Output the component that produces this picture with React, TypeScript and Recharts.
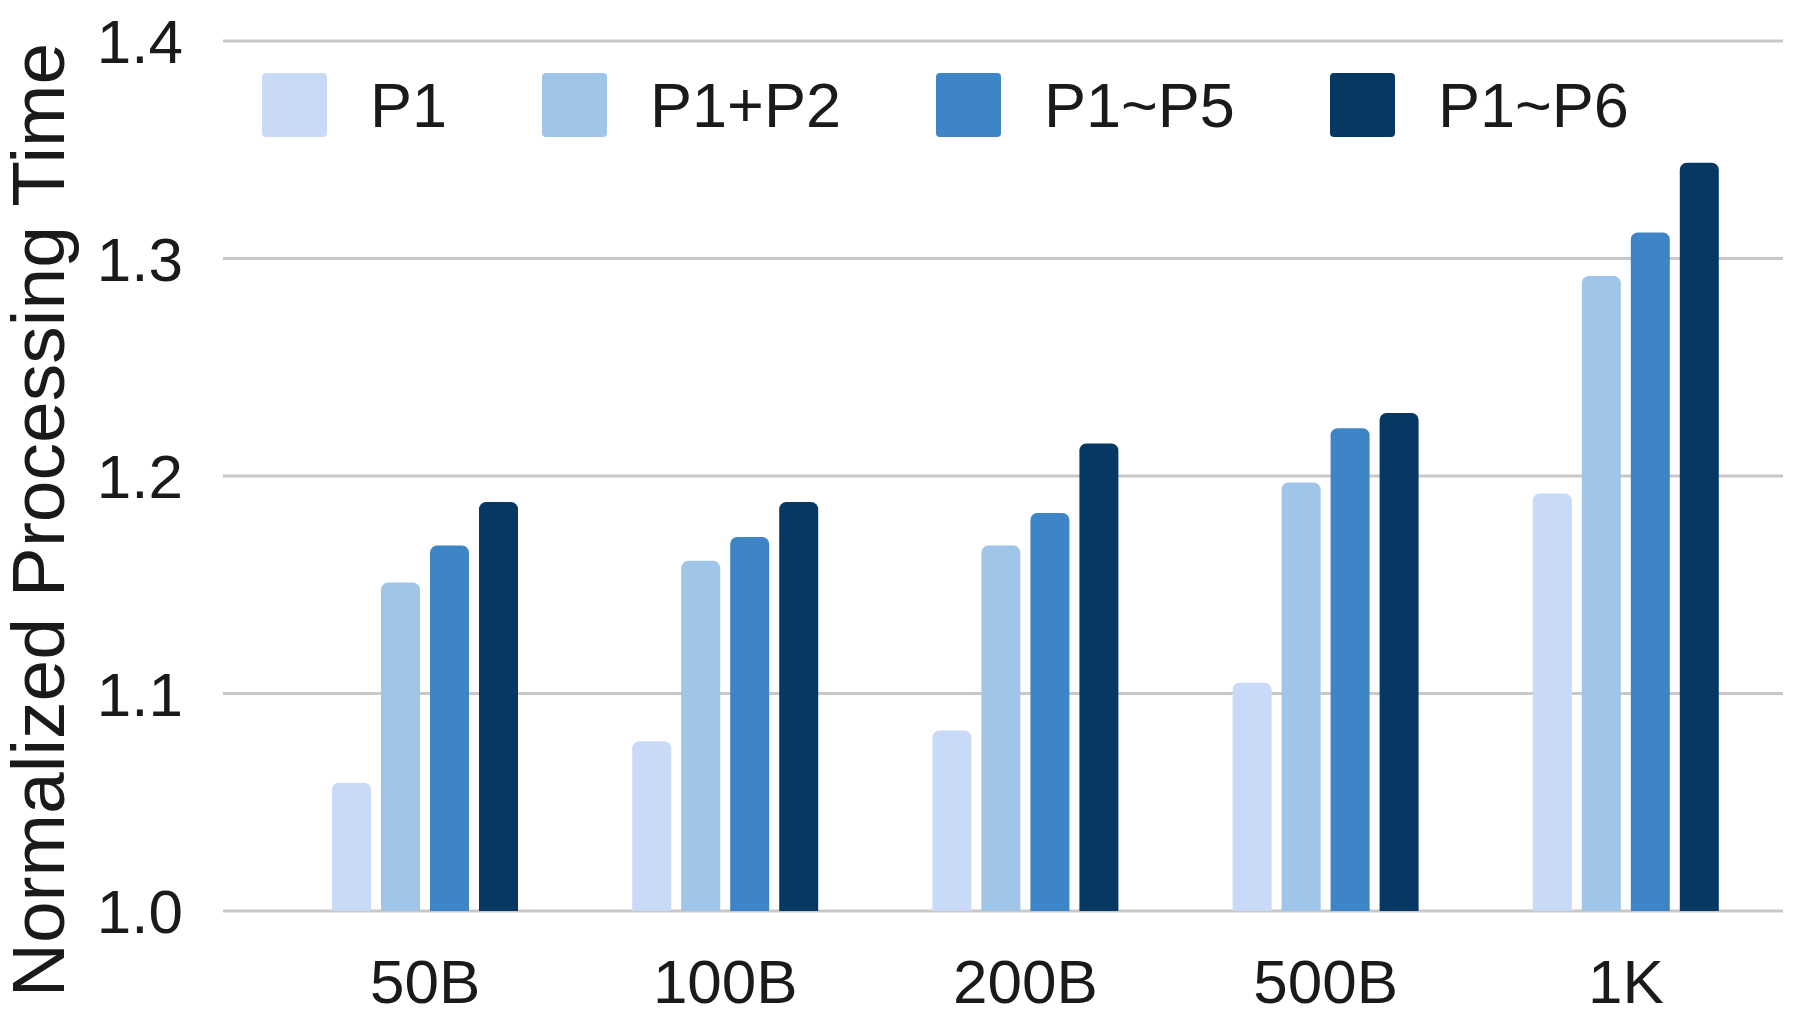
import React from "react";
import { BarChart, Bar, XAxis, YAxis, CartesianGrid, Legend, Label } from "recharts";

// message sizes on the x axis
const sizes = ["50B", "100B", "200B", "500B", "1K"];

// normalized processing time per configuration
const p1 = [1.059, 1.078, 1.083, 1.105, 1.192];
const p1p2 = [1.151, 1.161, 1.168, 1.197, 1.292];
const p1p5 = [1.168, 1.172, 1.183, 1.222, 1.312];
const p1p6 = [1.188, 1.188, 1.215, 1.229, 1.344];

const yTicks = [1.0, 1.1, 1.2, 1.3, 1.4];

const series = [
  { key: "P1", values: p1, color: "#c9daf8" },
  { key: "P1+P2", values: p1p2, color: "#9fc5e8" },
  { key: "P1~P5", values: p1p5, color: "#3d85c6" },
  { key: "P1~P6", values: p1p6, color: "#073763" },
];

const data = sizes.map((name, i) => {
  const row: Record<string, any> = { name };
  series.forEach((s) => (row[s.key] = s.values[i]));
  return row;
});

const FONT = '"Liberation Sans", Arial, Helvetica, sans-serif';
const INK = "#1a1a1a";

function LegendContent(props: any) {
  const items = props.payload || [];
  return (
    <div style={{ display: "flex", alignItems: "center", fontFamily: FONT }}>
      {items.map((it: any) => (
        <div key={it.value} style={{ display: "flex", alignItems: "center", marginRight: 95 }}>
          <div style={{ width: 65, height: 64, background: it.color, borderRadius: 4, marginRight: 43 }} />
          <span style={{ fontSize: 63, color: INK, lineHeight: "64px" }}>{it.value}</span>
        </div>
      ))}
    </div>
  );
}

function YTitle(props: any) {
  const vb = props.viewBox || { y: 41, height: 870 };
  const cx = 64;
  const cy = vb.y + vb.height / 2 + 44;
  return (
    <text
      x={cx}
      y={cy}
      transform={`rotate(-90, ${cx}, ${cy})`}
      textAnchor="middle"
      fontSize={75}
      fontFamily={FONT}
      fill={INK}
    >
      Normalized Processing Time
    </text>
  );
}

export default function App() {
  return (
    <div style={{ position: "absolute", left: 0, top: 0, width: 1800, height: 1018, background: "#fff" }}>
      <BarChart
        width={1800}
        height={1018}
        data={data}
        margin={{ top: 41, right: 17, left: 0, bottom: 0 }}
        barSize={39}
        barGap={10}
      >
        <CartesianGrid vertical={false} stroke="#c8c8c8" strokeWidth={3} />
        <XAxis
          dataKey="name"
          height={107}
          axisLine={false}
          tickLine={false}
          tickSize={0}
          tickMargin={48}
          padding={{ left: 52, right: 7 }}
          tick={{ fontSize: 62, fill: INK, fontFamily: FONT }}
        />
        <YAxis
          width={223}
          domain={[1, 1.4]}
          ticks={yTicks}
          axisLine={false}
          tickLine={false}
          tickSize={0}
          tickMargin={40}
          tickFormatter={(v: number) => v.toFixed(1)}
          tick={{ fontSize: 62, fill: INK, fontFamily: FONT }}
        >
          <Label content={<YTitle />} />
        </YAxis>
        <Legend
          layout="horizontal"
          verticalAlign="middle"
          align="center"
          content={<LegendContent />}
          wrapperStyle={{ left: 262, top: 73, width: 1480, height: 64 }}
        />
        {series.map((s) => (
          <Bar
            key={s.key}
            dataKey={s.key}
            fill={s.color}
            radius={[7, 7, 0, 0]}
            isAnimationActive={false}
          />
        ))}
      </BarChart>
    </div>
  );
}
